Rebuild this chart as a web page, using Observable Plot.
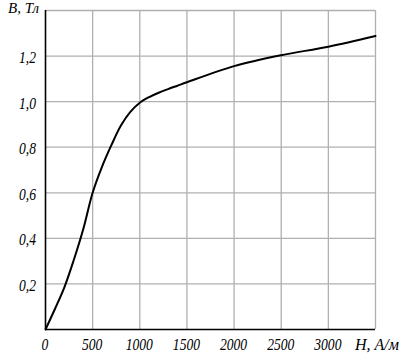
<!DOCTYPE html>
<html>
<head>
<meta charset="utf-8">
<script src="https://cdn.jsdelivr.net/npm/d3@7"></script>
<script src="https://cdn.jsdelivr.net/npm/@observablehq/plot@0.6"></script>
<style>
  html, body { margin: 0; padding: 0; background: #fff; }
</style>
</head>
<body>
<div id="chart"></div>
<script>
// Magnetisation curve B(H)
const H = [0, 100, 200, 300, 400, 500, 600, 700, 800, 900, 1000, 1100, 1200, 1300, 1400, 1500, 2000, 2500, 3000, 3500];
const B = [0, 0.09, 0.185, 0.305, 0.44, 0.6, 0.715, 0.81, 0.895, 0.955, 0.995, 1.02, 1.039, 1.055, 1.07, 1.085, 1.156, 1.204, 1.241, 1.288];

const xTicks = [0, 500, 1000, 1500, 2000, 2500, 3000];
const xTickLabels = ["0", "500", "1000", "1500", "2000", "2500", "3000"];
const yTicks = [0.2, 0.4, 0.6, 0.8, 1.0, 1.2];
const yTickLabels = ["0,2", "0,4", "0,6", "0,8", "1,0", "1,2"];
const xMax = 3500, yMax = 1.4;
const xTitle = "H, А/м";
const yTitle = "B, Тл";

const curve = H.map((h, i) => ({h, b: B[i]}));
const FONT = "'Liberation Serif', 'Times New Roman', serif";

function render() {
  const chart = Plot.plot({
    width: 404,
    height: 355,
    marginLeft: 45,
    marginRight: 29,
    marginTop: 10,
    marginBottom: 26,
    x: {domain: [0, xMax], axis: null},
    y: {domain: [0, yMax], axis: null},
    style: {background: "#fff"},
    marks: [
      Plot.ruleX([...xTicks.slice(1), xMax], {stroke: "#b0b0b0", strokeWidth: 1.3}),
      Plot.ruleY([...yTicks, yMax], {stroke: "#b0b0b0", strokeWidth: 1.3}),
      Plot.ruleX([0], {stroke: "#000", strokeWidth: 1.6}),
      Plot.ruleY([0], {stroke: "#000", strokeWidth: 1.6}),
      Plot.line(curve, {x: "h", y: "b", curve: "catmull-rom", stroke: "#000", strokeWidth: 2})
    ]
  });

  // Tick labels placed with the plot's own scales, in serif italic
  let sx, sy;
  try {
    const X = chart.scale("x"), Y = chart.scale("y");
    sx = v => X.apply(v); sy = v => Y.apply(v);
  } catch (e) {
    sx = d3.scaleLinear([0, xMax], [45, 404 - 29]);
    sy = d3.scaleLinear([0, yMax], [355 - 26, 10]);
  }
  const labels = d3.select(chart).append("g").attr("fill", "#000");
  function addText(str, x, y, anchor, size, sxScale) {
    const t = labels.append("text")
      .attr("transform", `translate(${x},${y})` + (sxScale ? ` scale(${sxScale},1)` : ""))
      .attr("text-anchor", anchor)
      .attr("font-size", size)
      .attr("font-family", FONT)
      .attr("font-style", "italic")
      .text(str);
    t.node().style.setProperty("font-family", FONT, "important");
    t.node().style.setProperty("font-style", "italic", "important");
  }
  xTicks.forEach((v, i) => addText(xTickLabels[i], sx(v), sy(0) + 21, "middle", 17, 0.8));
  yTicks.forEach((v, i) => addText(yTickLabels[i], sx(0) - 9, sy(v) + 7.5, "end", 17, 0.8));
  addText(xTitle, sx(xMax) + 2, sy(0) + 21, "middle", 16, 0);
  addText(yTitle, sx(0) - 6, sy(yMax) + 3, "end", 15, 0);

  const holder = document.getElementById("chart");
  holder.replaceChildren(chart);
}

render();
// re-render once the serif italic face is loaded, so the labels pick it up
if (document.fonts && document.fonts.load) {
  document.fonts.load("italic 17px 'Liberation Serif'", "0123456789,BТлHА/м")
    .then(render, () => {});
}
</script>
</body>
</html>
